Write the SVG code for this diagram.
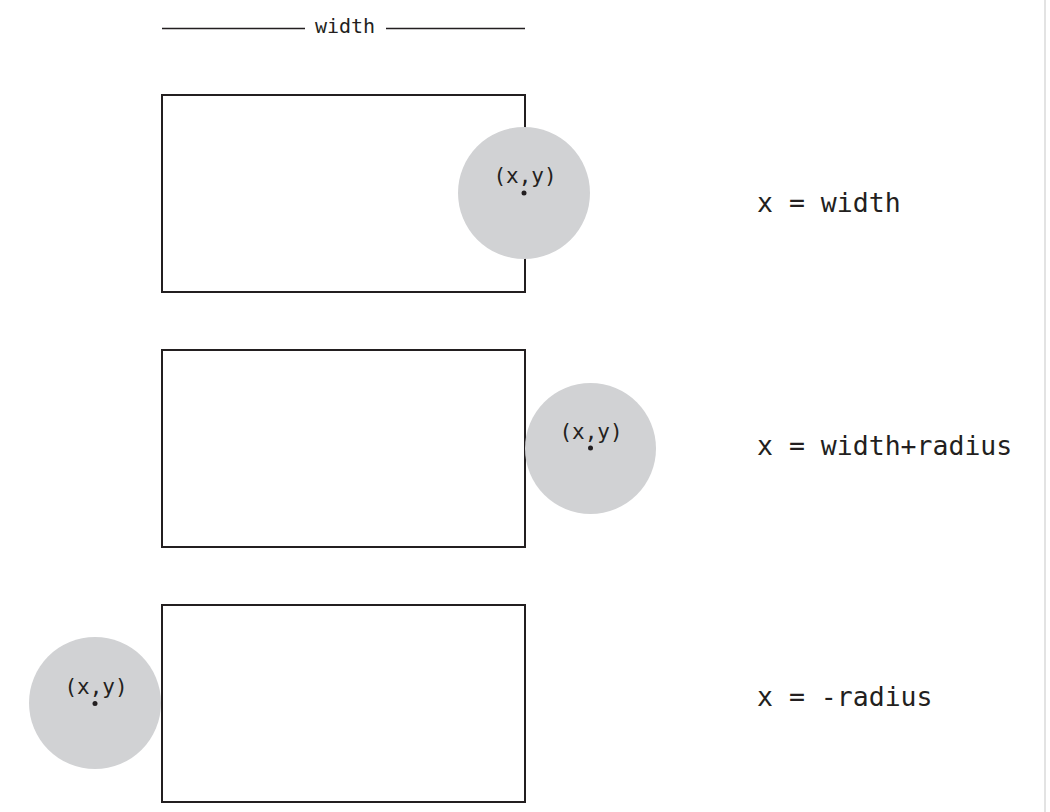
<svg xmlns="http://www.w3.org/2000/svg" width="1050" height="812" viewBox="0 0 1050 812">
<style>
.box{fill:none;stroke:#231f20;stroke-width:2}
.ball{fill:#d1d2d4}
.dot{fill:#231f20}
.lbl{font-family:"DejaVu Sans Mono","Liberation Mono",monospace;font-size:21px;fill:#231f20;text-anchor:middle}
.top{font-size:20px}
.eq{font-family:"DejaVu Sans Mono","Liberation Mono",monospace;font-size:26.5px;fill:#231f20}
.dim{stroke:#231f20;stroke-width:1.3}
</style>
<rect width="1050" height="812" fill="#fff"/>
<line x1="1045" y1="0" x2="1045" y2="812" stroke="#e3e3e3" stroke-width="2"/>
<g id="dimension">
<line class="dim" x1="162" y1="28.5" x2="305" y2="28.5"/>
<line class="dim" x1="386" y1="28.5" x2="525" y2="28.5"/>
<text class="lbl top" x="345" y="33">width</text>
</g>
<g id="case1">
<rect class="box" x="162" y="95" width="363" height="197"/>
<circle class="ball" cx="524" cy="193" r="66"/>
<circle class="dot" cx="524" cy="193" r="2.5"/>
<text class="lbl" x="525" y="183">(x,y)</text>
<text class="eq" x="757" y="212">x = width</text>
</g>
<g id="case2">
<rect class="box" x="162" y="350" width="363" height="197"/>
<circle class="ball" cx="590.5" cy="448.5" r="65.5"/>
<circle class="dot" cx="590.5" cy="448" r="2.5"/>
<text class="lbl" x="591" y="439">(x,y)</text>
<text class="eq" x="757" y="455">x = width+radius</text>
</g>
<g id="case3">
<rect class="box" x="162" y="605" width="363" height="197"/>
<circle class="ball" cx="95" cy="703" r="66"/>
<circle class="dot" cx="95" cy="703.5" r="2.5"/>
<text class="lbl" x="96" y="694">(x,y)</text>
<text class="eq" x="757" y="706">x = -radius</text>
</g>
</svg>
